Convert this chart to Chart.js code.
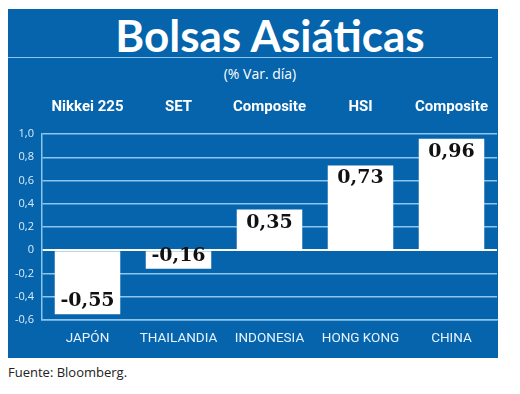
<!DOCTYPE html>
<html lang="es">
<head>
    <meta charset="UTF-8">
    <title>Bolsas Asiáticas</title>
    <script src="https://cdn.jsdelivr.net/npm/chart.js"></script>
    <style>
        body {
            margin: 0;
            width: 520px;
            height: 394px;
            background: #ffffff;
            position: relative;
            overflow: hidden;
        }
        .panel {
            position: absolute;
            left: 8px;
            top: 9px;
            width: 490px;
            height: 349px;
            background: #0564ac;
        }
        .title {
            position: absolute;
            left: 0;
            top: 4px;
            width: 524px;
            text-align: center;
            font-family: Lato, sans-serif;
            font-weight: bold;
            font-size: 44px;
            line-height: 44px;
            color: #ffffff;
        }
        .rule {
            position: absolute;
            left: 0;
            top: 48px;
            width: 484px;
            height: 1px;
            background: #8cc6ee;
        }
        .subtitle {
            position: absolute;
            left: 0;
            top: 55px;
            width: 504px;
            text-align: center;
            font-family: "Open Sans", sans-serif;
            font-size: 14px;
            color: #ffffff;
        }
        .chart-box {
            position: absolute;
            left: 8px;
            top: 92px;
            width: 490px;
            height: 266px;
        }
        .source {
            position: absolute;
            left: 8px;
            top: 363px;
            font-family: "Open Sans", sans-serif;
            font-size: 13px;
            color: #222222;
        }
    </style>
</head>
<body>

<div class="panel">
    <div class="title">Bolsas Asiáticas</div>
    <div class="rule"></div>
    <div class="subtitle">(% Var. día)</div>
</div>
<div class="chart-box">
    <canvas id="bolsasChart"></canvas>
</div>
<div class="source">Fuente: Bloomberg.</div>

<script>
// Datos
const paises = ['JAPÓN', 'THAILANDIA', 'INDONESIA', 'HONG KONG', 'CHINA'];
const indices = ['Nikkei 225', 'SET', 'Composite', 'HSI', 'Composite'];
const variacion = [-0.55, -0.16, 0.35, 0.73, 0.96];
const ticksY = [-0.6, -0.4, -0.2, 0, 0.2, 0.4, 0.6, 0.8, 1.0];

const coma = v => {
    if (Math.abs(v) < 1e-9) return '0';
    return v.toFixed(1).replace('.', ',');
};

// etiquetas de valor dentro de cada barra
const valueLabels = {
    id: 'valueLabels',
    afterDatasetsDraw(chart) {
        const ctx = chart.ctx;
        const meta = chart.getDatasetMeta(0);
        ctx.save();
        ctx.font = 'bold 19px "DejaVu Serif", serif';
        ctx.fillStyle = '#111111';
        ctx.textAlign = 'center';
        ctx.textBaseline = 'middle';
        meta.data.forEach((bar, i) => {
            const v = variacion[i];
            const txt = v.toFixed(2).replace('.', ',');
            const y = v >= 0 ? bar.y + 13 : bar.y - 13;
            ctx.fillText(txt, bar.x, y);
        });
        ctx.restore();
    }
};

const narrow = 'Roboto, "Liberation Sans", sans-serif';

// sin relleno lateral en los ejes horizontales
const fitX = h => scale => {
    scale.height = h;
    scale.paddingLeft = 0;
    scale.paddingRight = 0;
};

new Chart(document.getElementById('bolsasChart'), {
    type: 'bar',
    data: {
        labels: paises,
        datasets: [{
            data: variacion,
            backgroundColor: '#ffffff',
            borderWidth: 0,
            barPercentage: 0.72,
            categoryPercentage: 1.0,
            xAxisID: 'x'
        }]
    },
    options: {
        responsive: true,
        maintainAspectRatio: false,
        animation: false,
        layout: { padding: { right: 1 } },
        plugins: {
            legend: { display: false },
            tooltip: { enabled: false }
        },
        scales: {
            x: {
                position: 'bottom',
                grid: { display: false, drawTicks: false },
                border: { display: true, color: '#8cc6ee', width: 1.5 },
                ticks: {
                    color: '#e6f3ff',
                    padding: 11,
                    maxRotation: 0,
                    minRotation: 0,
                    autoSkip: false,
                    font: { family: narrow, size: 13.5 }
                },
                afterFit: fitX(38)
            },
            x2: {
                type: 'category',
                position: 'top',
                labels: indices,
                grid: { display: false, drawTicks: false },
                border: { display: false },
                ticks: {
                    color: '#ffffff',
                    padding: 18,
                    maxRotation: 0,
                    minRotation: 0,
                    autoSkip: false,
                    font: { family: narrow, size: 15, weight: 'bold' }
                },
                afterFit: fitX(42)
            },
            y: {
                min: -0.6,
                max: 1.0,
                grid: {
                    drawTicks: false,
                    color: ctx => ctx.tick && Math.abs(ctx.tick.value) < 1e-9 ? '#ffffff' : '#8cc6ee',
                    lineWidth: ctx => ctx.tick && Math.abs(ctx.tick.value) < 1e-9 ? 2 : 1.5
                },
                border: { display: true, color: '#8cc6ee', width: 1.5 },
                afterBuildTicks(scale) {
                    scale.ticks = ticksY.map(v => ({ value: v }));
                },
                ticks: {
                    color: '#dcecfa',
                    padding: 8,
                    font: { family: '"Open Sans", sans-serif', size: 11 },
                    callback: v => coma(v)
                },
                afterFit(scale) { scale.width = 34; }
            }
        }
    },
    plugins: [valueLabels]
});
</script>

</body>
</html>
